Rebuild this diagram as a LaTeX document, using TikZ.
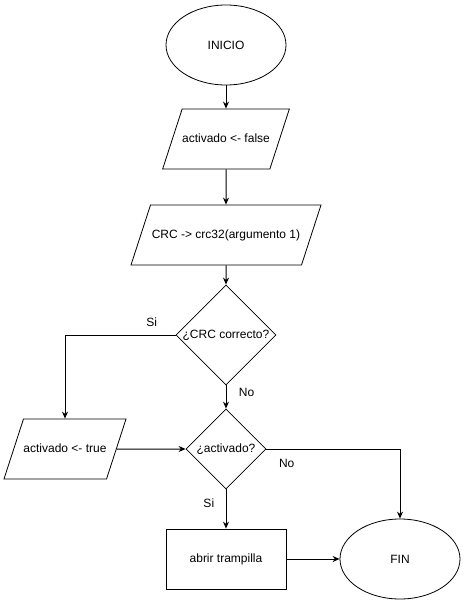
\documentclass[tikz,border=0pt]{standalone}
\usepackage{fontspec}
\setmainfont{Liberation Sans}
\usepackage{tikz}
\usetikzlibrary{positioning}
\usetikzlibrary{arrows.meta}
\usetikzlibrary{shapes.geometric}
\tikzset {
  node distance={95pt},
  % start and end of the flow
  term/.style = {draw, ellipse, minimum width=120pt, minimum height=80pt, inner sep=0pt},
  % assignment blocks
  io/.style = {draw, trapezium, trapezium left angle=72, trapezium right angle=108,
    trapezium stretches body=true, inner xsep=0pt, inner ysep=24pt,
    text height=9pt, text depth=3pt},
  % questions
  ask/.style = {draw, diamond, inner sep=0pt},
  % plain process box
  proc/.style = {draw, rectangle, minimum width=120pt, minimum height=60pt},
  % connectors
  flow/.style = {-{Stealth[length=7pt, width=6pt]}, line width=1pt},
}

\begin{document}
\begin{tikzpicture}[font=\fontsize{12}{14}\selectfont, on grid, line width=0.8pt]
  \useasboundingbox (0pt,0pt) rectangle (466pt,-605pt);

  \node[term] (ini) at (226pt,-45pt) {INICIO};
  \node[io, minimum width=120pt] (fal) [below=94pt of ini] {activado <- false};
  \node[io, minimum width=190pt] (crc) [below=96pt of fal] {CRC -> crc32(argumento 1)};
  \node[ask, minimum size=100pt] (q1) [below=100pt of crc] {¿CRC correcto?};
  \node[ask, minimum size=80pt] (q2) [below=114pt of q1] {¿activado?};
  \node[io, minimum width=120pt] (tru) [left=161pt of q2] {activado <- true};
  \node[proc] (box) [below=110pt of q2] {abrir trampilla};
  \node[term] (fin) [right=174pt of box] {FIN};

  \draw[flow] (ini) -- (fal);
  \draw[flow] (fal) -- (crc);
  \draw[flow] (crc) -- (q1);
  \draw[flow] (q1.west) -| node[pos=0.108, above=5pt] {Si} (tru);
  \draw[flow] (q1) -- node[pos=0.32, right=9pt] {No} (q2);
  \draw[flow] (tru) -- (q2);
  \draw[flow] (q2.east) -| node[pos=0.076, below=6pt] {No} (fin);
  \draw[flow] (q2) -- node[pos=0.34, left=8pt] {Si} (box);
  \draw[flow] (box) -- (fin);
\end{tikzpicture}
\end{document}
